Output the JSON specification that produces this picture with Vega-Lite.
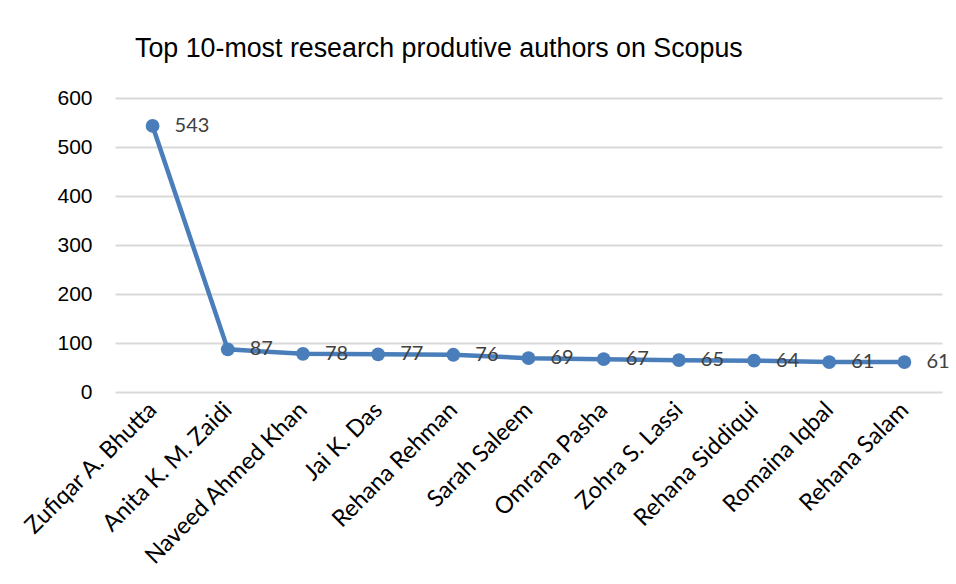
{
  "$schema": "https://vega.github.io/schema/vega-lite/v6.json",
  "autosize": {"type": "none"},
  "width": 827,
  "height": 294,
  "padding": {"left": 115, "top": 98, "right": 14, "bottom": 192},
  "background": "white",
  "title": {
    "text": "Top 10-most research produtive authors on Scopus",
    "anchor": "start",
    "frame": "group",
    "dx": 20,
    "offset": 24,
    "font": "Liberation Sans",
    "fontSize": 26.8,
    "fontWeight": "normal",
    "color": "#000000"
  },
  "data": {
    "values": [
      {"author": "Zufiqar A. Bhutta", "count": 543},
      {"author": "Anita K. M. Zaidi", "count": 87},
      {"author": "Naveed Ahmed Khan", "count": 78},
      {"author": "Jai K. Das", "count": 77},
      {"author": "Rehana Rehman", "count": 76},
      {"author": "Sarah Saleem", "count": 69},
      {"author": "Omrana Pasha", "count": 67},
      {"author": "Zohra S. Lassi", "count": 65},
      {"author": "Rehana Siddiqui", "count": 64},
      {"author": "Romaina Iqbal", "count": 61},
      {"author": "Rehana Salam", "count": 61}
    ]
  },
  "config": {
    "view": {"stroke": null}
  },
  "encoding": {
    "x": {
      "field": "author",
      "type": "nominal",
      "sort": null,
      "scale": {"type": "point", "padding": 0.5},
      "axis": {
        "title": null,
        "labelAngle": -45,
        "labelAlign": "right",
        "labelBaseline": "middle",
        "labelFont": "Lato",
        "labelFontSize": 23.5,
        "labelColor": "#000000",
        "labelPadding": 14,
        "labelLimit": 0,
        "labelOverlap": false,
        "ticks": false,
        "domain": false,
        "grid": false
      }
    },
    "y": {
      "field": "count",
      "type": "quantitative",
      "scale": {"domain": [0, 600], "nice": false},
      "axis": {
        "title": null,
        "values": [0, 100, 200, 300, 400, 500, 600],
        "labelFont": "Liberation Sans",
        "labelFontSize": 21,
        "labelColor": "#000000",
        "labelPadding": 23,
        "ticks": false,
        "domain": false,
        "gridColor": "#d9d9d9",
        "gridWidth": 2
      }
    }
  },
  "layer": [
    {
      "mark": {"type": "line", "color": "#4a7ebb", "strokeWidth": 4.5},
      "encoding": {}
    },
    {
      "mark": {"type": "point", "filled": true, "opacity": 1, "color": "#4a7ebb", "size": 190},
      "encoding": {}
    },
    {
      "mark": {"type": "text", "align": "left", "baseline": "middle", "dx": 22, "font": "Lato", "fontSize": 20, "color": "#404040"},
      "encoding": {"text": {"field": "count", "type": "quantitative"}}
    }
  ]
}
